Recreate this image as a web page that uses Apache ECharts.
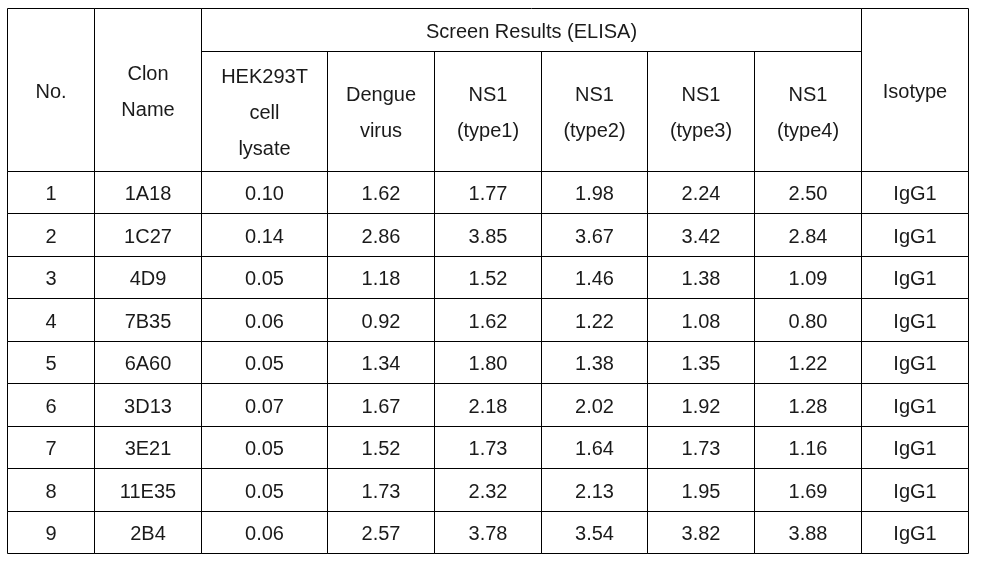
<!DOCTYPE html>
<html><head><meta charset="utf-8">
<script src="https://cdn.jsdelivr.net/npm/echarts@6/dist/echarts.min.js"></script>
<style>html,body{margin:0;padding:0;background:#fff}#c{width:981px;height:569px}</style>
</head><body><div id="c"></div>
<script>
// ---- data ----
const rowNumbers = ['1', '2', '3', '4', '5', '6', '7', '8', '9'];
const clonNames = ['1A18', '1C27', '4D9', '7B35', '6A60', '3D13', '3E21', '11E35', '2B4'];
const hek293tLysate = [0.10, 0.14, 0.05, 0.06, 0.05, 0.07, 0.05, 0.05, 0.06];
const dengueVirus = [1.62, 2.86, 1.18, 0.92, 1.34, 1.67, 1.52, 1.73, 2.57];
const ns1Type1 = [1.77, 3.85, 1.52, 1.62, 1.80, 2.18, 1.73, 2.32, 3.78];
const ns1Type2 = [1.98, 3.67, 1.46, 1.22, 1.38, 2.02, 1.64, 2.13, 3.54];
const ns1Type3 = [2.24, 3.42, 1.38, 1.08, 1.35, 1.92, 1.73, 1.95, 3.82];
const ns1Type4 = [2.50, 2.84, 1.09, 0.80, 1.22, 1.28, 1.16, 1.69, 3.88];
const isotypes = ['IgG1', 'IgG1', 'IgG1', 'IgG1', 'IgG1', 'IgG1', 'IgG1', 'IgG1', 'IgG1'];
const groupTitle = 'Screen Results (ELISA)';
const columnHeaders = ['No.', 'Clon\nName', 'HEK293T\ncell\nlysate', 'Dengue\nvirus',
  'NS1\n(type1)', 'NS1\n(type2)', 'NS1\n(type3)', 'NS1\n(type4)', 'Isotype'];

// ---- layout (table units) ----
const colEdges = [0, 87, 194, 320, 427, 534, 640, 747, 854, 961];
const headerSplit = 43, headerBottom = 163, rowHeight = 42.44;
const tableW = 961, tableH = 545;

const cells = [];
function addCell(c0, c1, y0, y1, text) {
  cells.push({ value: [colEdges[c0], y0, colEdges[c1], y1], text: text });
}
// header
addCell(0, 1, 0, headerBottom, columnHeaders[0]);
addCell(1, 2, 0, headerBottom, columnHeaders[1]);
addCell(2, 8, 0, headerSplit, groupTitle);
for (let c = 2; c < 8; c++) addCell(c, c + 1, headerSplit, headerBottom, columnHeaders[c]);
addCell(8, 9, 0, headerBottom, columnHeaders[8]);
// body
const valueCols = [hek293tLysate, dengueVirus, ns1Type1, ns1Type2, ns1Type3, ns1Type4];
for (let i = 0; i < rowNumbers.length; i++) {
  const y0 = headerBottom + i * rowHeight, y1 = y0 + rowHeight;
  addCell(0, 1, y0, y1, rowNumbers[i]);
  addCell(1, 2, y0, y1, clonNames[i]);
  valueCols.forEach(function (arr, k) { addCell(2 + k, 3 + k, y0, y1, arr[i].toFixed(2)); });
  addCell(8, 9, y0, y1, isotypes[i]);
}

const chart = echarts.init(document.getElementById('c'), null, { renderer: 'canvas' });
chart.setOption({
  animation: false,
  backgroundColor: '#ffffff',
  grid: { left: 7, top: 8, width: tableW, height: tableH },
  xAxis: { type: 'value', min: 0, max: tableW, show: false },
  yAxis: { type: 'value', min: 0, max: tableH, inverse: true, show: false },
  series: [{
    type: 'custom',
    clip: false,
    encode: { x: [0, 2], y: [1, 3] },
    data: cells.map(function (c) { return c.value; }),
    renderItem: function (params, api) {
      const p0 = api.coord([api.value(0), api.value(1)]);
      const p1 = api.coord([api.value(2), api.value(3)]);
      const x0 = Math.round(p0[0]) + 0.5, y0 = Math.round(p0[1]) + 0.5;
      const x1 = Math.round(p1[0]) + 0.5, y1 = Math.round(p1[1]) + 0.5;
      return {
        type: 'group',
        children: [
          { type: 'rect', shape: { x: x0, y: y0, width: x1 - x0, height: y1 - y0 },
            style: { fill: null, stroke: '#000', lineWidth: 1 } },
          { type: 'text',
            style: { text: cells[params.dataIndex].text, x: (x0 + x1) / 2, y: (y0 + y1) / 2 + 2,
              align: 'center', verticalAlign: 'middle', fill: '#1a1a1a',
              fontFamily: 'Liberation Sans', fontSize: 20, lineHeight: 36 } }
        ]
      };
    }
  }]
});
</script></body></html>
